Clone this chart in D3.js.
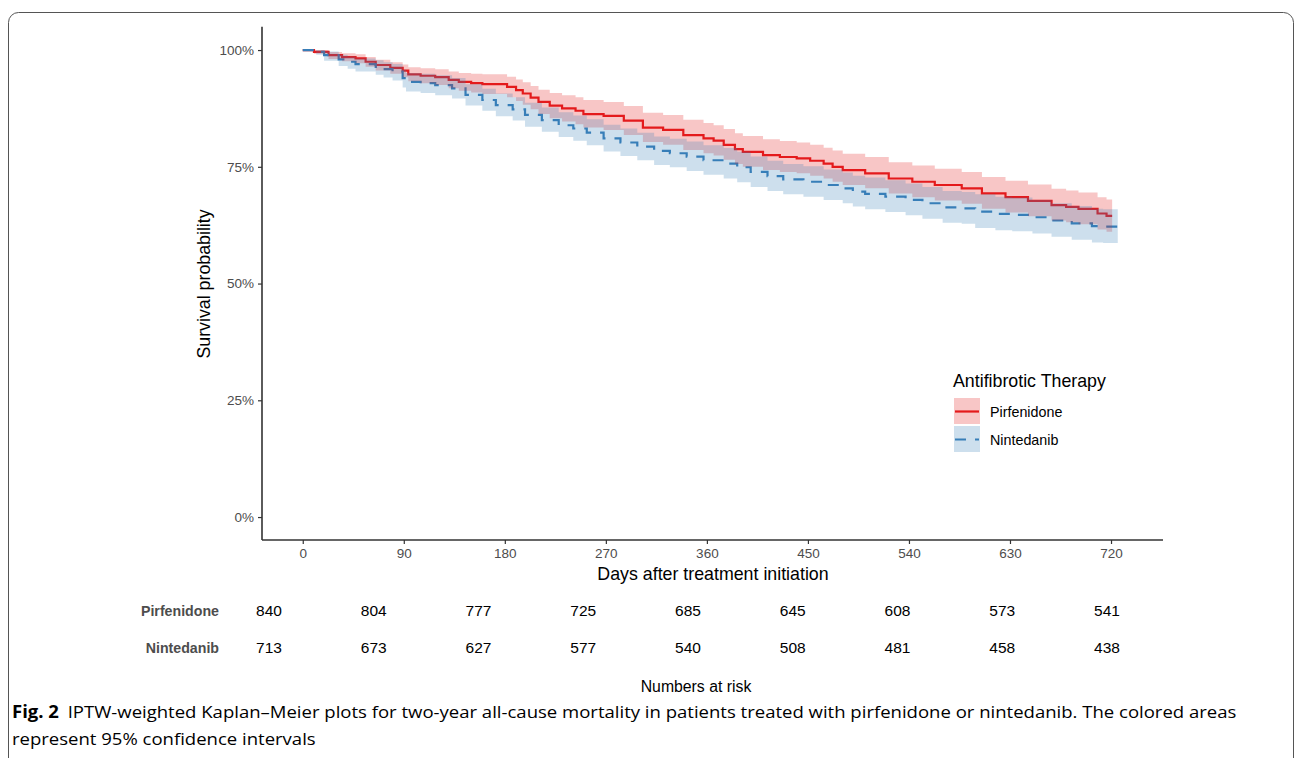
<!DOCTYPE html>
<html>
<head>
<meta charset="utf-8">
<script src="https://cdn.jsdelivr.net/npm/d3@7"></script>
<style>
  html, body { margin: 0; padding: 0; background: #fff; }
  svg { display: block; font-family: "Liberation Sans", Arial, sans-serif; }
</style>
</head>
<body>
<svg id="chart" width="1296" height="758"></svg>
<script>
// Pirfenidone (red, solid): step times (days), survival %, 95% CI
const pirfDays  = [0, 10, 23, 35, 47, 56, 65, 78, 89, 94, 105, 118, 130, 139, 150, 160, 182, 190, 196, 203, 210, 220, 231, 243, 250, 268, 286, 303, 321, 339, 357, 366, 375, 385, 392, 410, 425, 440, 452, 464, 472, 481, 501, 522, 543, 563, 587, 605, 626, 646, 667, 680, 691, 708, 716, 721];
const pirfSurv  = [100, 99.6, 98.9, 98.5, 98.2, 97.5, 96.8, 96.2, 95.6, 94.8, 94.5, 94.2, 93.6, 93.2, 92.9, 92.7, 92.1, 91.4, 90.7, 89.8, 88.9, 88.1, 87.5, 87.0, 86.3, 85.9, 84.9, 83.4, 82.9, 81.8, 81.1, 80.6, 79.7, 78.8, 78.2, 77.5, 77.1, 76.8, 76.3, 75.7, 75.0, 74.3, 73.6, 72.5, 71.8, 71.1, 70.4, 69.3, 68.5, 67.7, 66.8, 66.4, 66.0, 65.0, 64.5, 64.5];
const pirfLower = [100, 99.2, 98.1, 97.6, 97.2, 96.4, 95.6, 94.9, 94.2, 93.3, 92.9, 92.5, 91.8, 91.3, 90.9, 90.6, 89.9, 89.1, 88.3, 87.3, 86.3, 85.4, 84.7, 84.1, 83.4, 82.9, 81.8, 80.3, 79.7, 78.6, 77.9, 77.4, 76.5, 75.6, 75.0, 74.3, 73.9, 73.6, 73.1, 72.5, 71.8, 71.1, 70.4, 69.3, 68.5, 67.8, 67.1, 66.0, 65.2, 64.4, 63.5, 63.1, 62.7, 61.6, 61.1, 61.1];
const pirfUpper = [100, 100, 99.6, 99.3, 99.1, 98.5, 97.9, 97.4, 96.9, 96.3, 96.1, 95.9, 95.4, 95.1, 94.9, 94.8, 94.3, 93.7, 93.1, 92.3, 91.5, 90.8, 90.3, 89.9, 89.3, 88.9, 88.0, 86.6, 86.1, 85.1, 84.4, 83.9, 83.1, 82.2, 81.6, 80.9, 80.5, 80.2, 79.7, 79.1, 78.5, 77.8, 77.1, 76.0, 75.3, 74.6, 73.9, 72.8, 72.0, 71.2, 70.3, 69.9, 69.5, 68.5, 68.0, 68.0];

// Nintedanib (blue, dashed)
const ninDays  = [0, 12, 19, 32, 40, 47, 65, 72, 80, 89, 92, 105, 118, 133, 145, 160, 172, 187, 198, 213, 228, 241, 253, 268, 283, 298, 313, 327, 342, 357, 375, 387, 399, 414, 428, 446, 464, 481, 490, 501, 519, 537, 552, 570, 587, 599, 617, 632, 650, 667, 685, 703, 713, 726];
const ninSurv  = [100, 99.6, 98.9, 98.0, 97.5, 97.0, 96.4, 95.9, 95.4, 94.0, 93.2, 92.9, 92.5, 91.8, 90.4, 89.3, 88.2, 87.3, 86.1, 85.0, 83.9, 83.2, 82.3, 81.1, 80.2, 79.3, 78.4, 77.9, 77.2, 76.4, 75.7, 74.9, 73.9, 73.0, 72.3, 71.8, 71.1, 70.4, 69.7, 69.2, 68.6, 67.9, 67.2, 66.3, 66.1, 65.4, 64.9, 64.7, 64.2, 63.5, 62.9, 62.3, 62.2, 62.2];
const ninLower = [100, 99.0, 97.7, 96.6, 96.0, 95.4, 94.7, 94.1, 93.5, 92.0, 91.1, 90.8, 90.3, 89.6, 88.1, 87.0, 85.8, 84.9, 83.6, 82.5, 81.4, 80.6, 79.6, 78.3, 77.3, 76.4, 75.4, 74.9, 74.1, 73.3, 72.5, 71.7, 70.7, 69.8, 69.1, 68.6, 67.9, 67.2, 66.5, 65.9, 65.3, 64.6, 63.9, 63.0, 62.8, 61.9, 61.4, 61.2, 60.7, 60.0, 59.4, 58.8, 58.7, 58.7];
const ninUpper = [100, 100, 99.7, 99.0, 98.6, 98.2, 97.8, 97.4, 97.0, 95.8, 95.1, 94.9, 94.6, 94.0, 92.7, 91.7, 90.7, 89.9, 88.7, 87.7, 86.7, 86.0, 85.2, 84.0, 83.2, 82.3, 81.5, 81.0, 80.4, 79.6, 79.0, 78.2, 77.2, 76.3, 75.6, 75.1, 74.4, 73.8, 73.1, 72.7, 72.1, 71.4, 70.7, 69.8, 69.6, 69.1, 68.6, 68.4, 67.9, 67.2, 66.6, 66.0, 65.9, 65.9];

// axis ticks and risk table
const xTicks = [0, 90, 180, 270, 360, 450, 540, 630, 720];
const yTicks = [0, 25, 50, 75, 100];
const riskTimes = [0, 90, 180, 270, 360, 450, 540, 630, 720];
const pirfRisk = [840, 804, 777, 725, 685, 645, 608, 573, 541];
const ninRisk  = [713, 673, 627, 577, 540, 508, 481, 458, 438];

const RED = '#E41A1C', BLUE = '#377EB8';

const svg = d3.select('#chart');

// figure frame
svg.append('rect')
  .attr('x', 8.5).attr('y', 12.5)
  .attr('width', 1285).attr('height', 762)
  .attr('rx', 10)
  .attr('fill', 'none')
  .attr('stroke', '#555')
  .attr('stroke-width', 1);

const x = d3.scaleLinear().domain([-36.3, 766.3]).range([262, 1163]);
const y = d3.scaleLinear().domain([-5, 105]).range([540.4, 26.7]);

function series(days, surv, lower, upper) {
  return days.map((d, i) => ({ t: d, s: surv[i], lo: lower[i], hi: upper[i] }));
}
const pirf = series(pirfDays, pirfSurv, pirfLower, pirfUpper);
const nin = series(ninDays, ninSurv, ninLower, ninUpper);

const line = d3.line()
  .x(d => x(d.t)).y(d => y(d.s))
  .curve(d3.curveStepAfter);

const band = d3.area()
  .x(d => x(d.t)).y0(d => y(d.lo)).y1(d => y(d.hi))
  .curve(d3.curveStepAfter);

const plot = svg.append('g');

// survival curves first, ribbons drawn over them (like survminer)
plot.append('path')
  .datum(pirf)
  .attr('d', line)
  .attr('fill', 'none')
  .attr('stroke', RED)
  .attr('stroke-width', 2.2);

plot.append('path')
  .datum(nin)
  .attr('d', line)
  .attr('fill', 'none')
  .attr('stroke', BLUE)
  .attr('stroke-width', 2.2)
  .attr('stroke-dasharray', '11,9');

plot.append('path')
  .datum(pirf)
  .attr('d', band)
  .attr('fill', RED)
  .attr('fill-opacity', 0.25);

plot.append('path')
  .datum(nin)
  .attr('d', band)
  .attr('fill', BLUE)
  .attr('fill-opacity', 0.25);

// axes
const xAxis = d3.axisBottom(x).tickValues(xTicks).tickSize(4).tickPadding(4);
const yAxis = d3.axisLeft(y).tickValues(yTicks).tickSize(4).tickPadding(4)
  .tickFormat(d => d + '%');

function styleAxis(g) {
  g.select('.domain').attr('stroke', '#333').attr('stroke-width', 1.6);
  g.selectAll('.tick line').attr('stroke', '#333').attr('stroke-width', 1.2);
  g.selectAll('.tick text')
    .attr('fill', '#4D4D4D')
    .style('font-size', '13.5px')
    .style('font-family', '"Liberation Sans", Arial, sans-serif');
}

svg.append('g')
  .attr('transform', 'translate(0,540)')
  .call(xAxis)
  .call(g => g.select('.domain').attr('d', 'M262,0H1163'))
  .call(styleAxis);

svg.append('g')
  .attr('transform', 'translate(262,0)')
  .call(yAxis)
  .call(g => g.select('.domain').attr('d', 'M0,26.7V540'))
  .call(styleAxis);

svg.append('text')
  .attr('x', 713).attr('y', 580)
  .attr('text-anchor', 'middle')
  .style('font-size', '17.8px')
  .text('Days after treatment initiation');

svg.append('text')
  .attr('transform', 'translate(210,284) rotate(-90)')
  .attr('text-anchor', 'middle')
  .style('font-size', '17.8px')
  .text('Survival probability');

// legend
const legend = svg.append('g');
legend.append('text')
  .attr('x', 953).attr('y', 387)
  .style('font-size', '17.8px')
  .text('Antifibrotic Therapy');

const keys = [
  { name: 'Pirfenidone', color: RED, dash: null, y: 398 },
  { name: 'Nintedanib', color: BLUE, dash: '11,9', y: 426 }
];
const key = legend.selectAll('g.key')
  .data(keys)
  .enter()
    .append('g')
    .attr('class', 'key')
    .attr('transform', d => 'translate(954,' + d.y + ')');

key.append('rect')
  .attr('width', 26).attr('height', 26)
  .attr('fill', d => d.color)
  .attr('fill-opacity', 0.25);

key.append('line')
  .attr('x1', 1).attr('x2', 25)
  .attr('y1', 13.5).attr('y2', 13.5)
  .attr('stroke', d => d.color)
  .attr('stroke-width', 2.2)
  .attr('stroke-dasharray', d => d.dash);

key.append('text')
  .attr('x', 36).attr('y', 18.5)
  .style('font-size', '14.3px')
  .text(d => d.name);

// numbers at risk table
const xr = d3.scaleLinear().domain([0, 720]).range([269, 1107]);
const rows = [
  { label: 'Pirfenidone', values: pirfRisk, y: 616 },
  { label: 'Nintedanib', values: ninRisk, y: 653 }
];
const row = svg.selectAll('g.risk')
  .data(rows)
  .enter()
    .append('g')
    .attr('class', 'risk');

row.append('text')
  .attr('x', 219).attr('y', d => d.y)
  .attr('text-anchor', 'end')
  .attr('fill', '#4D4D4D')
  .style('font-size', '14.2px')
  .style('font-weight', 'bold')
  .text(d => d.label);

row.selectAll('text.n')
  .data(d => d.values.map((v, i) => ({ v: v, t: riskTimes[i], y: d.y })))
  .enter()
    .append('text')
    .attr('class', 'n')
    .attr('x', d => xr(d.t)).attr('y', d => d.y)
    .attr('text-anchor', 'middle')
    .style('font-size', '15.5px')
    .text(d => d.v);

svg.append('text')
  .attr('x', 696).attr('y', 692)
  .attr('text-anchor', 'middle')
  .style('font-size', '15.8px')
  .text('Numbers at risk');

// caption
const cap = svg.append('g').style('font-family', '"Open Sans", "Noto Sans", sans-serif');
const line1 = cap.append('text').attr('x', 12).attr('y', 718).style('font-size', '17px');
line1.append('tspan').style('font-weight', 'bold').text('Fig. 2');
line1.append('tspan').attr('dx', 8)
  .text('IPTW-weighted Kaplan\u2013Meier plots for two-year all-cause mortality in patients treated with pirfenidone or nintedanib. The colored areas');
const line2 = cap.append('text').attr('x', 12).attr('y', 745).style('font-size', '17px')
  .text('represent 95% confidence intervals');

// squeeze caption to the condensed width of the original typeface
const w1 = line1.node().getBBox().width;
const k = (1238 - 12) / w1;
[line1, line2].forEach(t => t.attr('transform', 'translate(12,0) scale(' + k + ',1) translate(-12,0)'));
</script>
</body>
</html>
